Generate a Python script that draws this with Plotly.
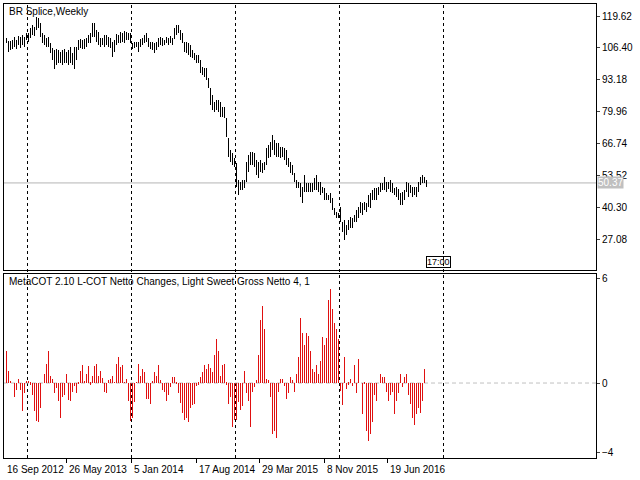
import plotly.graph_objects as go

# weekly high / low of the BR splice (bar index 0 = first bar on screen)
highs = [110.4, 109.4, 109.4, 109.7, 111.0, 109.7, 111.3, 111.0, 111.7, 111.0,
         112.4, 112.7, 114.5, 115.9, 115.2, 119.1, 118.7, 116.6, 112.4, 111.7,
         110.4, 111.0, 108.3, 106.2, 105.5, 105.8, 105.5, 104.8, 105.5, 105.8,
         104.8, 105.5, 106.9, 104.1, 106.9, 106.9, 109.7, 109.9, 109.7, 109.9,
         110.4, 111.7, 112.4, 116.9, 116.6, 113.8, 113.1, 110.4, 110.4, 111.7,
         111.7, 111.0, 110.4, 109.0, 109.7, 112.1, 111.7, 113.1, 112.7, 113.5,
         113.1, 112.4, 112.4, 108.3, 109.0, 109.0, 109.0, 109.9, 110.4, 111.7,
         112.4, 110.4, 109.0, 109.0, 108.3, 109.0, 110.4, 111.0, 110.4, 109.7,
         111.0, 110.4, 111.3, 110.4, 114.5, 115.9, 115.9, 113.8, 112.4, 109.0,
         109.0, 108.3, 107.6, 105.5, 104.1, 103.4, 103.4, 101.4, 98.6, 97.9,
         97.9, 93.8, 89.6, 86.8, 84.0, 84.8, 84.8, 84.0, 82.0, 82.0,
         77.2, 68.9, 64.0, 62.6, 60.6, 58.5, 51.6, 50.9, 51.6, 51.6,
         59.2, 62.0, 63.3, 63.0, 62.6, 59.9, 59.2, 59.9, 58.5, 59.2,
         64.7, 66.1, 67.5, 70.2, 68.2, 66.8, 66.8, 65.4, 65.4, 64.7,
         64.0, 60.6, 59.2, 57.8, 54.3, 51.6, 50.9, 50.5, 48.8, 53.6,
         50.2, 50.2, 50.2, 50.2, 52.3, 53.6, 50.9, 50.9, 48.8, 48.1,
         46.0, 45.4, 46.0, 44.0, 39.8, 38.4, 37.7, 40.5, 34.3, 35.0,
         32.9, 35.0, 36.4, 35.7, 37.0, 39.1, 40.5, 42.6, 41.9, 42.6,
         41.9, 45.4, 46.0, 47.4, 48.1, 48.1, 48.8, 50.2, 50.2, 52.7,
         50.9, 50.9, 51.6, 50.2, 48.1, 48.8, 47.7, 46.0, 46.7, 47.4,
         50.9, 50.2, 49.5, 48.8, 48.8, 48.8, 50.9, 53.0, 53.6, 53.0,
         51.6]
lows = [108.3, 104.8, 105.5, 105.8, 106.9, 105.8, 107.6, 106.2, 107.6, 106.9,
        109.7, 109.0, 110.4, 111.7, 111.3, 113.8, 114.5, 111.0, 108.3, 107.6,
        106.9, 106.9, 104.1, 101.4, 97.5, 99.3, 100.0, 100.0, 99.3, 100.0,
        100.0, 99.3, 100.0, 99.3, 97.5, 101.4, 105.5, 106.2, 105.8, 105.8,
        106.9, 108.3, 108.3, 111.0, 111.0, 109.0, 107.6, 106.9, 107.6, 106.9,
        107.6, 106.9, 106.2, 102.7, 104.8, 107.6, 108.3, 108.3, 109.0, 108.3,
        109.7, 109.7, 108.3, 105.8, 106.2, 106.6, 104.8, 106.9, 107.6, 108.3,
        109.0, 106.9, 105.8, 105.5, 104.1, 105.5, 106.9, 107.6, 107.2, 107.6,
        108.3, 107.6, 108.3, 107.6, 109.9, 111.7, 112.4, 109.7, 108.3, 104.8,
        104.1, 103.4, 102.7, 102.0, 101.4, 100.0, 100.0, 95.8, 95.1, 94.4,
        93.1, 89.6, 82.7, 80.6, 80.0, 80.6, 80.0, 77.9, 77.9, 77.2,
        69.6, 61.3, 59.2, 57.8, 57.1, 48.8, 45.4, 47.4, 47.4, 48.1,
        50.9, 55.0, 57.8, 57.8, 57.1, 53.6, 52.3, 55.0, 54.3, 55.7,
        57.8, 60.6, 61.3, 64.0, 62.0, 61.3, 61.3, 60.6, 61.3, 59.9,
        57.8, 57.1, 54.3, 53.6, 50.9, 48.1, 48.1, 44.7, 41.9, 46.7,
        46.7, 46.7, 46.7, 46.7, 47.4, 47.4, 46.7, 45.4, 46.0, 43.3,
        43.3, 43.3, 41.9, 39.1, 37.0, 35.7, 35.7, 34.3, 30.1, 26.7,
        28.8, 30.8, 31.5, 31.5, 34.3, 34.3, 35.7, 37.7, 37.0, 39.1,
        38.4, 40.5, 39.8, 43.3, 43.3, 43.3, 45.4, 46.7, 47.4, 47.4,
        46.7, 47.7, 46.7, 46.0, 45.4, 44.7, 43.3, 41.2, 41.2, 43.3,
        46.7, 44.7, 46.0, 44.7, 45.4, 44.7, 46.7, 49.5, 50.2, 50.2,
        48.8]
last_price = 50.37

# weekly netto change histogram
cot = [1.8, 0.7, 0.1, 0.0, -0.8, -0.4, 0.25, -0.4, -1.6, -0.6,
       0.1, 0.1, -0.1, -0.7, -1.6, -2.2, -2.25, -1.45, 0.0, 0.5,
       1.1, 1.8, 0.4, 0.2, -0.6, -0.3, -1.05, -2.0, -0.8, -0.7,
       0.5, -1.0, -1.05, -0.5, -0.2, -0.6, -0.05, 0.7, 1.05, 0.1,
       0.5, 0.95, -0.1, 0.4, 0.95, 1.1, 0.4, 0.7, 0.3, -0.5,
       -0.6, 0.15, 0.25, 0.4, 0.05, 1.1, 1.5, 0.9, 1.0, 0.05,
       0.25, -1.05, -2.2, -2.0, -1.1, 0.05, 1.1, 0.4, 0.8, 0.6,
       -0.95, -0.95, -1.2, 0.1, 0.6, 0.4, 1.0, 0.15, -0.4, -0.5,
       -1.05, -0.7, -0.25, 0.35, 0.35, -0.05, -0.6, -1.15, -1.7, -2.1,
       -2.0, -2.25, -1.45, -1.25, -1.2, -0.2, -0.1, 0.35, 0.6, 1.05,
       0.8, 1.1, 0.85, 0.6, 1.6, 2.5, 1.8, 0.4, 1.05, 1.1,
       -0.1, -1.2, -0.8, -2.5, -2.1, -2.1, -1.1, -1.55, -1.35, 0.7,
       -0.6, -1.05, -2.5, -0.5, -0.25, 0.15, 1.6, 3.6, 4.4, 3.1,
       0.25, 0.15, -0.8, -2.95, -2.75, -3.15, -0.5, 0.25, 0.25, -0.2,
       -0.95, -0.6, 0.35, 0.15, -0.5, 0.5, 1.5, 3.7, 2.85, 2.15,
       2.85, 2.7, 1.8, 0.8, 0.6, 1.0, 0.5, 1.25, 2.65, 2.15,
       2.55, 4.75, 5.4, 4.2, 3.45, 3.1, 2.5, -0.45, -1.25, 1.5,
       -0.35, -0.1, 0.25, -0.15, 1.05, -0.6, 1.35, 0.0, -1.8, -0.05,
       -2.75, -3.35, -2.95, -2.25, -0.7, -1.05, 0.0, 0.5, 0.35, 0.35,
       -0.5, -1.05, -0.7, -0.5, -1.8, -1.05, -0.6, 0.5, -0.25, 0.35,
       0.5, -0.7, -1.2, -2.0, -2.4, -1.8, -1.45, -1.7, -1.05, 0.8]

price_ticks = [119.62, 106.40, 93.18, 79.96, 66.74, 53.52, 40.30, 27.08]
cot_ticks = [6, 0, -4]
date_pos = [-1.5, 30, 62.5, 95, 126.5, 159, 190.5]
date_labels = ["16 Sep 2012", "26 May 2013", "5 Jan 2014", "17 Aug 2014",
               "29 Mar 2015", "8 Nov 2015", "19 Jun 2016"]
grid_pos = [10.5, 62.5, 114.5, 166.5, 218.5]

FONT = dict(family="Liberation Sans", size=10, color="black")

fig = go.Figure()
fig.add_trace(go.Bar(
    x=list(range(len(highs))), y=[h - l for h, l in zip(highs, lows)], base=lows,
    width=0.5, marker=dict(color="black", line_width=0), xaxis="x", yaxis="y",
))
fig.add_trace(go.Bar(
    x=list(range(len(cot))), y=cot, width=0.5,
    marker=dict(color="#e01010", line_width=0), xaxis="x2", yaxis="y2",
))

axis_common = dict(showgrid=False, zeroline=False, showline=True, linecolor="black",
                   linewidth=1, mirror=True, range=[-1.25, 294.75])
fig.update_layout(
    width=640, height=480, margin=dict(l=4, r=44, t=4, b=22, autoexpand=False),
    paper_bgcolor="white", plot_bgcolor="white", showlegend=False,
    bargap=0, font=FONT,
    xaxis=dict(**axis_common, domain=[0, 1], anchor="y", showticklabels=False, ticks=""),
    xaxis2=dict(**axis_common, domain=[0, 1], anchor="y2", tickvals=date_pos,
                ticktext=[""] * len(date_pos), ticks="outside", ticklen=4,
                tickcolor="black"),
    yaxis=dict(domain=[0.414, 1], range=[14.23, 124.6], side="right",
               tickvals=price_ticks, ticktext=[f"{v:.2f}" for v in price_ticks],
               ticks="outside", ticklen=3, showgrid=False, zeroline=False,
               showline=True, linecolor="black", mirror=True, tickfont=FONT),
    yaxis2=dict(domain=[0, 0.405], range=[-4.29, 6.23], side="right",
                tickvals=cot_ticks, ticks="outside", ticklen=3, showgrid=False,
                zeroline=False, showline=True, linecolor="black", mirror=True,
                tickfont=FONT),
)

for gx in grid_pos:
    fig.add_shape(type="line", xref="x", yref="paper", x0=gx, x1=gx, y0=0, y1=1,
                  line=dict(color="black", width=1, dash="3px,3px"), layer="below")
fig.add_shape(type="line", xref="paper", yref="y", x0=0, x1=1, y0=last_price,
              y1=last_price, line=dict(color="#b4b4b4", width=1), layer="below")
fig.add_shape(type="line", xref="paper", yref="y2", x0=0, x1=1, y0=0, y1=0,
              line=dict(color="#c0c0c0", width=1, dash="4px,3px"), layer="below")

for pos, lab in zip(date_pos, date_labels):
    fig.add_annotation(x=max(pos, -1.0), y=0, xref="x2", yref="paper", yshift=-4,
                       text=lab, showarrow=False, xanchor="left", yanchor="top",
                       font=FONT)
fig.add_annotation(x=1, y=last_price, xref="paper", yref="y", text=f"{last_price:.2f}",
                   showarrow=False, xanchor="left", xshift=1, bgcolor="#c0c0c0",
                   borderpad=0, font=dict(family="Liberation Sans", size=10, color="white"))
fig.add_annotation(x=0.005, y=1, xref="paper", yref="paper", text="BR Splice,Weekly",
                   showarrow=False, xanchor="left", yanchor="top", font=FONT)
fig.add_annotation(x=0.005, y=0.405, xref="paper", yref="paper",
                   text="MetaCOT 2.10 L-COT Netto Changes, Light Sweet Gross Netto 4, 1",
                   showarrow=False, xanchor="left", yanchor="top", font=FONT)
fig.add_annotation(x=209.5, y=17.5, xref="x", yref="y", text="17:00", showarrow=False,
                   xanchor="left", bordercolor="black", borderwidth=1, borderpad=0,
                   font=dict(family="Liberation Sans", size=9, color="black"))

fig.write_html("out.html", config={"displayModeBar": False},
               post_script="document.body.style.margin='0';")
